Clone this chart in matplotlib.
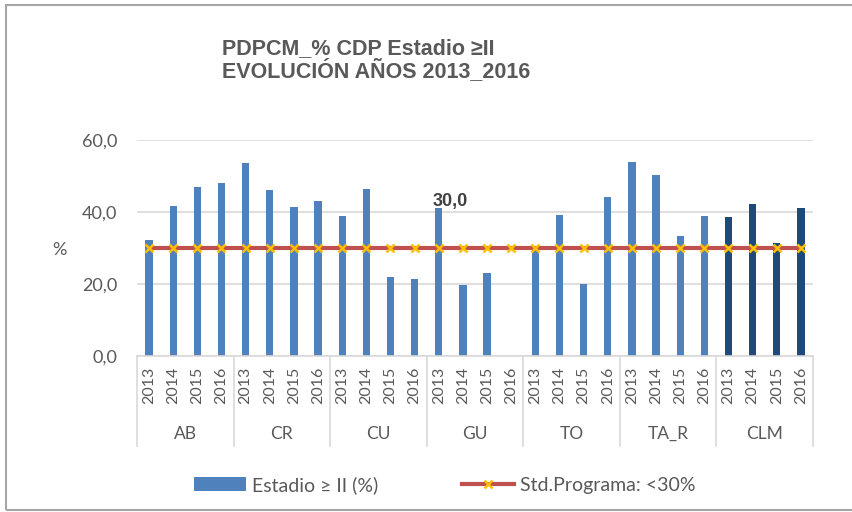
import numpy as np
import matplotlib.pyplot as plt
from matplotlib.patches import Rectangle

plt.rcParams['font.family'] = ['Lato', 'DejaVu Sans']

provincias = ['AB', 'CR', 'CU', 'GU', 'TO', 'TA_R', 'CLM']
anos = ['2013', '2014', '2015', '2016']

# % estadio >= II por provincia y año
estadio = [32.2, 41.8, 47.0, 48.0,
           53.5, 46.1, 41.3, 43.0,
           38.8, 46.3, 22.0, 21.3,
           41.0, 19.8, 23.0, 0.0,
           30.2, 39.2, 20.1, 44.1,
           54.0, 50.2, 33.2, 38.9,
           38.6, 42.2, 31.3, 41.1]
estandar = [30.0] * 28

azul = '#4F81BD'
azul_osc = '#1F497D'
rojo = '#C0504D'
amarillo = '#FFC000'
gris_txt = '#595959'

fig = plt.figure(figsize=(8.53, 5.12), dpi=100)
ax = fig.add_axes([137/853, 1-356/512, (813-137)/853, (356-140)/512])

x = np.arange(len(estadio))
colores = [azul_osc if i >= 24 else azul for i in x]
barras = ax.bar(x, estadio, width=0.3, color=colores, zorder=2)
linea, = ax.plot(x, estandar, color=rojo, lw=3, marker='x', markersize=6, mec=amarillo,
                 mew=1.8, zorder=3)

ax.set_xlim(-0.5, 27.5)
ax.set_ylim(0, 60)
ax.set_yticks([0, 20, 40, 60])
ax.set_yticklabels(['0,0', '20,0', '40,0', '60,0'])
ax.yaxis.grid(True, color='#D9D9D9', lw=1.2, zorder=0)
ax.tick_params(axis='y', length=0, pad=14, labelsize=13, labelcolor=gris_txt)

ax.set_xticks(x)
ax.set_xticklabels(anos * len(provincias), rotation=90)
ax.tick_params(axis='x', length=0, pad=8, labelsize=11.5, labelcolor=gris_txt)

for s in ['top', 'right', 'left']:
    ax.spines[s].set_visible(False)
ax.spines['bottom'].set_color('#D9D9D9')
ax.spines['bottom'].set_linewidth(1.2)

trans = ax.get_xaxis_transform()
for k in range(len(provincias) + 1):
    ax.plot([k*4 - 0.5, k*4 - 0.5], [0, -90/216], transform=trans,
            color='#D9D9D9', lw=1.2, clip_on=False)
for k, p in enumerate(provincias):
    ax.text(k*4 + 1.5, -78/216, p, transform=trans, ha='center', va='center',
            fontsize=12.5, color=gris_txt)

ax.text(11.76, 42.8, '30,0', ha='left', va='center', fontsize=13,
        fontweight='bold', color='#404040', zorder=4, family='Liberation Sans')

fig.text(59/853, 1-250/512, '%', ha='center', va='center', fontsize=13, color=gris_txt)
fig.text(222/853, 1-60/512, 'PDPCM_% CDP Estadio ≥II\nEVOLUCIÓN AÑOS 2013_2016',
         ha='left', va='center', fontsize=15.5, fontweight='bold', color=gris_txt,
         linespacing=1.0, family=['Liberation Sans', 'DejaVu Sans'])

ax.legend([barras, linea], ['Estadio ≥ II (%)', 'Std.Programa: <30%'],
          loc='center', bbox_to_anchor=(0.455, 1-(485-140)/216), ncol=2, frameon=False,
          fontsize=14, labelcolor=gris_txt, columnspacing=4.3, handlelength=2.67,
          handletextpad=0.3)

fig.patches.append(Rectangle((6/853, 1-510/512), 860/853, 505/512, transform=fig.transFigure,
                             fill=False, edgecolor='#A6A6A6', lw=1.5))

fig.savefig('out.png', dpi=100)
